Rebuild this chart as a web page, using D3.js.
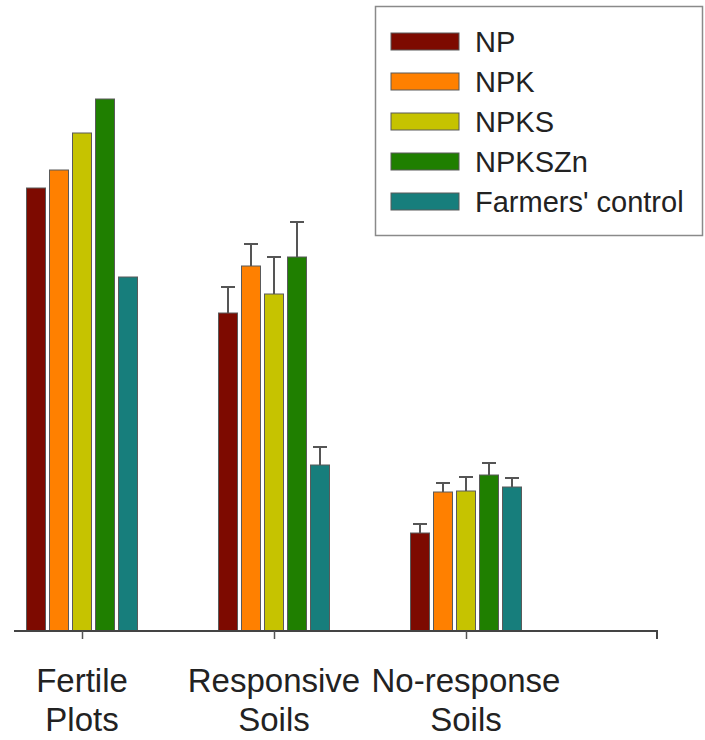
<!DOCTYPE html>
<html>
<head>
<meta charset="utf-8">
<script src="https://cdn.jsdelivr.net/npm/d3@7"></script>
<style>
  body { margin: 0; background: #fff; }
  svg { display: block; font-family: "Liberation Sans", Arial, sans-serif; }
</style>
</head>
<body>
<div id="chart"></div>
<script>
// soil groups (two-line labels) and treatments
var groups = ["Fertile Plots", "Responsive Soils", "No-response Soils"];
var groupLines = [["Fertile", "Plots"], ["Responsive", "Soils"], ["No-response", "Soils"]];
var treatments = ["NP", "NPK", "NPKS", "NPKSZn", "Farmers' control"];
var colors = ["#7d0a00", "#ff8000", "#c6c300", "#1f7f00", "#177e7c"];

// mean values per group, same order as treatments
var fertile = [4.43, 4.61, 4.98, 5.32, 3.54];
var responsive = [3.18, 3.65, 3.37, 3.74, 1.66];
var noResponse = [0.98, 1.39, 1.40, 1.56, 1.44];

// upper error bars (0 = none drawn)
var fertileErr = [0, 0, 0, 0, 0];
var responsiveErr = [0.26, 0.22, 0.37, 0.35, 0.18];
var noResponseErr = [0.09, 0.09, 0.14, 0.12, 0.09];

var values = [fertile, responsive, noResponse];
var errors = [fertileErr, responsiveErr, noResponseErr];

var width = 705, height = 740;
var baseY = 631;

var svg = d3.select("#chart").append("svg")
    .attr("width", width)
    .attr("height", height);

var x = d3.scalePoint().domain(groups).range([82, 466]);
var xs = d3.scaleBand().domain(treatments).range([-55.5, 55.5]).paddingInner(0.174);
var y = d3.scaleLinear().domain([0, 5.5]).range([baseY, baseY - 550]);
var color = d3.scaleOrdinal().domain(treatments).range(colors);

var data = [];
groups.forEach(function(g, gi) {
    treatments.forEach(function(t, ti) {
        data.push({group: g, treatment: t, value: values[gi][ti], err: errors[gi][ti]});
    });
});

// bars
svg.append("g").selectAll("rect")
    .data(data)
    .enter().append("rect")
    .attr("x", function(d) { return x(d.group) + xs(d.treatment); })
    .attr("y", function(d) { return y(d.value); })
    .attr("width", xs.bandwidth())
    .attr("height", function(d) { return baseY - y(d.value); })
    .attr("fill", function(d) { return color(d.treatment); })
    .attr("stroke", "#5a5a5a")
    .attr("stroke-width", 1);

// error bars (upper only)
var eb = svg.append("g").attr("stroke", "#555").attr("stroke-width", 2)
    .selectAll("g")
    .data(data.filter(function(d) { return d.err > 0; }))
    .enter().append("g")
    .attr("transform", function(d) {
        return "translate(" + (x(d.group) + xs(d.treatment) + xs.bandwidth() / 2) + ",0)";
    });
eb.append("line")
    .attr("x1", 0).attr("x2", 0)
    .attr("y1", function(d) { return y(d.value); })
    .attr("y2", function(d) { return y(d.value + d.err); });
eb.append("line")
    .attr("x1", -7).attr("x2", 7)
    .attr("y1", function(d) { return y(d.value + d.err); })
    .attr("y2", function(d) { return y(d.value + d.err); });

// x axis
var axis = svg.append("g")
    .attr("transform", "translate(0," + baseY + ")")
    .call(d3.axisBottom(x).tickSize(8).tickSizeOuter(0).tickFormat(""));
axis.select(".domain").attr("d", "M14,0H657V8").attr("stroke", "#444").attr("stroke-width", 2);
axis.selectAll(".tick line").attr("stroke", "#555").attr("stroke-width", 1.5);

// group labels
var lab = svg.append("g").selectAll("text")
    .data(groups)
    .enter().append("text")
    .attr("text-anchor", "middle")
    .attr("font-size", 33)
    .attr("fill", "#222");
lab.each(function(g, i) {
    var t = d3.select(this);
    groupLines[i].forEach(function(line, li) {
        t.append("tspan")
            .attr("x", x(g))
            .attr("y", 692 + li * 39)
            .text(line);
    });
});

// legend
var legend = svg.append("g");
legend.append("rect")
    .attr("x", 375.5).attr("y", 6.5)
    .attr("width", 327).attr("height", 229)
    .attr("fill", "#fff")
    .attr("stroke", "#8a8a8a")
    .attr("stroke-width", 1.5);
var item = legend.selectAll("g.item")
    .data(treatments)
    .enter().append("g")
    .attr("class", "item")
    .attr("transform", function(d, i) { return "translate(391," + (33 + i * 40) + ")"; });
item.append("rect")
    .attr("width", 68).attr("height", 17)
    .attr("fill", function(d) { return color(d); })
    .attr("stroke", "#5a5a5a")
    .attr("stroke-width", 1);
item.append("text")
    .attr("x", 84).attr("y", 19)
    .attr("font-size", 29)
    .attr("fill", "#222")
    .text(function(d) { return d; });
</script>
</body>
</html>
